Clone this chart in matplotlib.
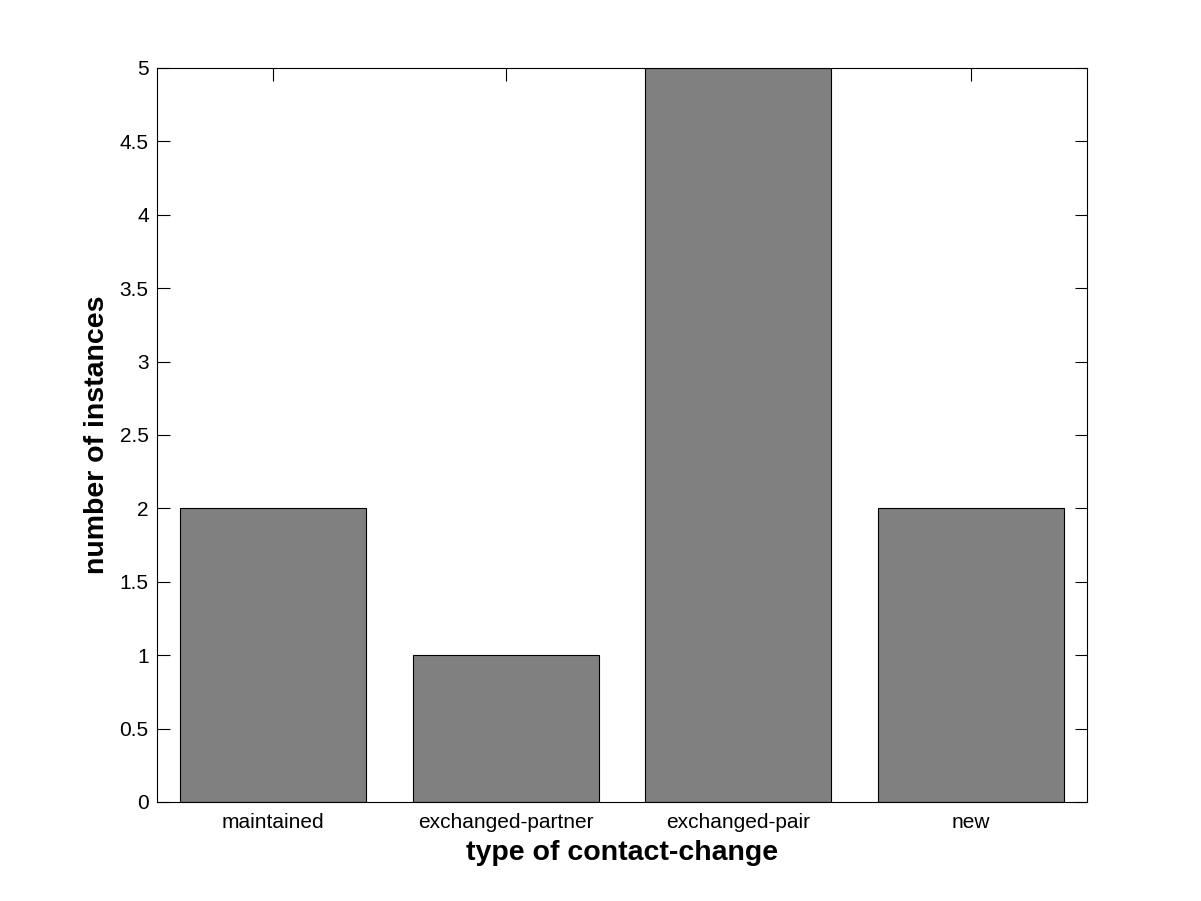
import matplotlib
matplotlib.use("Agg")
import matplotlib.pyplot as plt

categories = ["maintained", "exchanged-partner", "exchanged-pair", "new"]
counts = [2, 1, 5, 2]
yticks = [0, 0.5, 1, 1.5, 2, 2.5, 3, 3.5, 4, 4.5, 5]
ytick_labels = ["0", "0.5", "1", "1.5", "2", "2.5", "3", "3.5", "4", "4.5", "5"]

plt.rcParams['font.family'] = ['Liberation Sans', 'DejaVu Sans']
fig = plt.figure(figsize=(12.01, 9.01), dpi=100)
ax = fig.add_axes([0.1307, 0.1099, 0.7745, 0.8147])
ax.set_axisbelow(True)
x = list(range(1, len(categories) + 1))
ax.bar(x, counts, width=0.8, color='#808080', edgecolor='black', linewidth=0.8, zorder=2)
ax.set_xlim(0.5, 4.5)
ax.set_ylim(0, 5)
ax.set_xticks(x)
ax.set_xticklabels(categories, fontsize=15)
ax.set_yticks(yticks)
ax.set_yticklabels(ytick_labels, fontsize=15)
ax.tick_params(direction='in', length=9, width=0.8, top=True, right=True)
ax.tick_params(axis='x', pad=8)
ax.tick_params(axis='y', pad=6)
for s in ax.spines.values():
    s.set_linewidth(0.8)
    s.set_zorder(3)
ax.set_xlabel("type of contact-change", fontsize=20.5, fontweight='bold', labelpad=6)
ax.set_ylabel("number of instances", fontsize=20.5, fontweight='bold', labelpad=7)
fig.savefig("out.png", dpi=100)
